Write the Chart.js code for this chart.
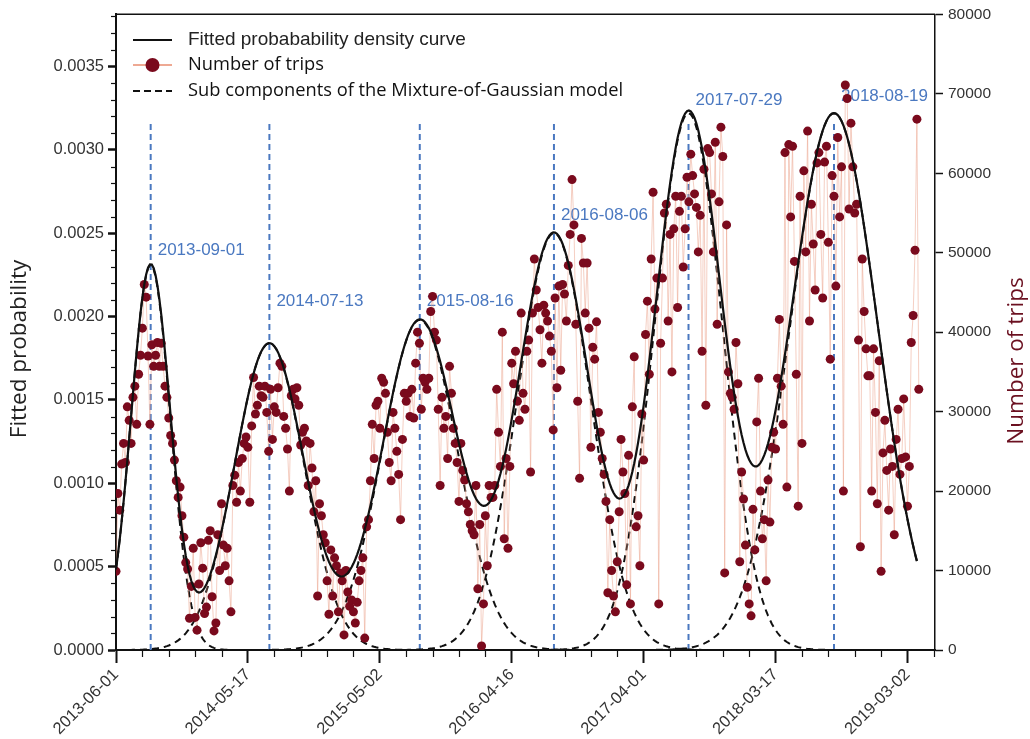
<!DOCTYPE html>
<html>
<head>
<meta charset="utf-8">
<title>Number of trips and fitted Mixture-of-Gaussian density</title>
<script src="https://cdn.jsdelivr.net/npm/chart.js@4.4.1/dist/chart.umd.min.js"></script>
<style>
  html, body { margin: 0; padding: 0; background: #fff; }
  #chart { display: block; }
</style>
</head>
<body>
<canvas id="chart" width="1030" height="739"></canvas>
<script>
// x axis is counted in days from this date
const startDate = "2013-06-01";
const xMaxDays = 2173;
const xTickStepDays = 70;
const xLabelEveryDays = 350;

// number of trips, one reading every 5 days from startDate
const tripStepDays = 5;
const trips = [
    9900, 19700, 17600, 23400, 26000, 23600, 30600, 28900, 26000, 31800,
    33200, 28400, 34700, 37100, 40500, 46000, 44400, 37000, 28400, 38400,
    35700, 37100, 38700, 35700, 38600, 35700, 33200, 31800, 29200, 27000,
    26000, 23900, 21300, 19200, 20500, 16900, 14200, 11000, 10200, 4000,
    8000, 12800, 4100, 2500, 8300, 13500, 10300, 4600, 5400, 13800,
    15000, 6700, 2400, 3400, 14500, 10000, 18400, 13200, 10600, 12800,
    8700, 4800, 20700, 22000, 18600, 23600, 20000, 24100, 26000, 26800,
    25500, 18600, 28200, 34300, 29700, 30800, 33200, 32000, 31800, 33200,
    29900, 25000, 32800, 26500, 30600, 29900, 33000, 36100, 35700, 29400,
    27900, 25300, 20000, 32000, 32800, 31600, 33000, 30800, 25800, 27400,
    27900, 26300, 20700, 26000, 22900, 17400, 21300, 6800, 18400, 16900,
    14500, 13500, 8700, 4500, 12600, 6800, 11600, 10600, 4800, 9700,
    8700, 1900, 10000, 7300, 5500, 6300, 4800, 3400, 6000, 8700,
    10000, 11600, 1500, 15500, 16400, 21300, 28400, 24100, 30800, 31300,
    27900, 34200, 33700, 32300, 27400, 23600, 21300, 29900, 27900, 25000,
    22100, 16400, 26500, 32300, 31300, 32300, 29400, 32800, 29200, 36100,
    40000, 38600, 30300, 34200, 33700, 32800, 34200, 42600, 44500, 40000,
    39000, 30300, 20700, 31800, 27900, 29400, 24100, 35700, 32300, 27900,
    26000, 23600, 18700, 26000, 22600, 21400, 18400, 17400, 15800, 15000,
    14500, 20700, 7700, 15800, 500, 5800, 16900, 10600, 20700, 19200,
    19200, 20700, 32800, 27400, 23100, 40000, 14000, 24100, 12800, 23100,
    36100, 33500, 37600, 31300, 28900, 42400, 32300, 30300, 37600, 39000,
    22400, 42400, 49200, 45300, 43100, 40300, 36100, 43400, 42400, 41400,
    39500, 37600, 27700, 44300, 33000, 45800, 35200, 46000, 44800, 41400,
    48400, 52300, 59200, 53500, 41000, 31300, 21600, 51800, 48700, 42400,
    48700, 40500, 25500, 38100, 36600, 41300, 29900, 27400, 24100, 22100,
    18700, 7200, 16400, 10000, 6800, 4800, 11100, 17400, 26500, 22400,
    19700, 8200, 24500, 5800, 30600, 36900, 15500, 16900, 10600, 29700,
    23900, 39700, 43900, 34700, 49200, 57600, 42900, 46800, 5800, 38600,
    46800, 55000, 56100, 41400, 52300, 35000, 53000, 57100, 43100, 55200,
    57100, 48200, 53000, 59500, 56400, 62400, 59700, 57400, 55700, 50100,
    54700, 37600, 60500, 30800, 63100, 62600, 57400, 50100, 63900, 41000,
    56400, 65800, 62100, 9700, 53500, 35000, 32300, 31800, 30300, 38700,
    33500, 11100, 22400, 19000, 13200, 7900, 5800, 4300, 17700, 12600,
    28700, 34200, 20000, 14000, 16400, 8700, 21400, 16100, 25500, 27400,
    25300, 34200, 41600, 33200, 28400, 62600, 20500, 63600, 54500, 63400,
    48900, 34700, 18100, 57100, 26000, 60300, 50100, 65300, 41400, 56100,
    51100, 45300, 61300, 62600, 52300, 44300, 61400, 63400, 51300, 36600,
    59700, 57100, 45800, 64500, 54500, 60800, 20000, 71100, 69400, 55500,
    66300, 60800, 55000, 56100, 39000, 13000, 49200, 42600, 37900, 34500,
    34500, 20000, 37900, 29900, 18400, 36400, 9900, 24800, 28900, 22600,
    17600, 25300, 23100, 14500, 26500, 30300, 22100, 24100, 31600, 24300,
    18100, 23100, 38700, 42100, 50300, 66800, 32800
];

// Mixture-of-Gaussian sub components: peak date, peak density, spread (days)
const peakDates = ["2013-09-01", "2014-07-13", "2015-08-16", "2016-08-06", "2017-07-29", "2018-08-19"];
const peakDensity = [0.00231, 0.00184, 0.00198, 0.00250, 0.00322, 0.00322];
const peakSdDays = [52, 92, 100, 97, 90, 116];
// height (density axis) of each date label and of the dashed marker lines
const peakLabelY = [0.00240, 0.00209, 0.00209, 0.00261, 0.00330, 0.00332];
const peakLineTop = 0.00317;
const curveEndDays = 2125;
const curveStepDays = 5;

const densityMax = 0.003813;
const tripsMax = 80000;

const DAY = 86400000;
const dayOf = (s) => (Date.parse(s) - Date.parse(startDate)) / DAY;
const fmtDay = (d) => new Date(Date.parse(startDate) + d * DAY).toISOString().slice(0, 10);

const tickFamily = "'Liberation Sans', Arial, sans-serif";
const tickColor = "#333";
const axisColor = "#111";
const dotColor = "#7a0a1d";
const blue = "#4a78c0";

function buildChart() {
    const means = peakDates.map(dayOf);

    const curveDays = [];
    for (let d = 0; d <= curveEndDays; d += curveStepDays) curveDays.push(d);

    function component(i, d) {
        const z = (d - means[i]) / peakSdDays[i];
        return peakDensity[i] * Math.exp(-0.5 * z * z);
    }

    const datasets = [];

    datasets.push({
        label: "Fitted probability density curve",
        data: curveDays.map((d) => ({ x: d, y: means.reduce((s, m, i) => s + component(i, d), 0) })),
        yAxisID: "y",
        borderColor: "#111",
        borderWidth: 2.2,
        pointRadius: 0,
        order: 0,
    });

    datasets.push({
        label: "Number of trips",
        data: trips.map((v, i) => ({ x: i * tripStepDays, y: v })),
        yAxisID: "y2",
        borderColor: "rgba(236, 160, 135, 0.5)",
        borderWidth: 1,
        pointRadius: 4.5,
        pointBackgroundColor: dotColor,
        pointBorderColor: dotColor,
        pointBorderWidth: 0,
        order: 1,
    });

    means.forEach((m, i) => {
        datasets.push({
            label: "component " + (i + 1),
            data: curveDays.map((d) => ({ x: d, y: component(i, d) })),
            yAxisID: "y",
            borderColor: "#111",
            borderWidth: 2,
            borderDash: [7, 5],
            pointRadius: 0,
            order: 2,
        });
    });

    means.forEach((m, i) => {
        datasets.push({
            label: peakDates[i],
            data: [{ x: m, y: 0 }, { x: m, y: peakLineTop }],
            yAxisID: "y",
            borderColor: blue,
            borderWidth: 2,
            borderDash: [6, 4],
            pointRadius: 0,
            order: 3,
        });
    });

    // date labels next to each dashed marker line (under the dots)
    const peakLabels = {
        id: "peakLabels",
        beforeDatasetsDraw(chart) {
            const ctx = chart.ctx;
            const xs = chart.scales.x;
            const ys = chart.scales.y;
            ctx.save();
            ctx.font = "17px 'Liberation Sans', Arial, sans-serif";
            ctx.fillStyle = blue;
            ctx.textAlign = "left";
            ctx.textBaseline = "middle";
            means.forEach((m, i) => {
                ctx.fillText(peakDates[i], xs.getPixelForValue(m) + 7, ys.getPixelForValue(peakLabelY[i]));
            });
            ctx.restore();
        },
    };

    const decor = {
        id: "decor",
        afterDraw(chart) {
            const ctx = chart.ctx;
            const area = chart.chartArea;
            const xs = chart.scales.x;
            const ys = chart.scales.y;
            ctx.save();

            // top spine
            ctx.strokeStyle = axisColor;
            ctx.lineWidth = 1.5;
            ctx.beginPath();
            ctx.moveTo(area.left, area.top);
            ctx.lineTo(area.right, area.top);
            ctx.stroke();

            // minor ticks
            ctx.lineWidth = 1.2;
            xs.ticks.forEach((t) => {
                if (t.value % xLabelEveryDays === 0) return;
                const px = Math.round(xs.getPixelForValue(t.value)) + 0.5;
                ctx.beginPath();
                ctx.moveTo(px, area.bottom);
                ctx.lineTo(px, area.bottom + 7);
                ctx.stroke();
            });
            ys.ticks.forEach((t) => {
                if (Math.round(t.value * 10000) % 5 === 0) return;
                const py = Math.round(ys.getPixelForValue(t.value)) + 0.5;
                ctx.beginPath();
                ctx.moveTo(area.left - 5, py);
                ctx.lineTo(area.left, py);
                ctx.stroke();
            });

            // axis titles, both reading bottom to top
            ctx.textAlign = "center";
            ctx.textBaseline = "middle";
            ctx.font = "22.5px 'Open Sans', sans-serif";
            ctx.fillStyle = "#222";
            ctx.save();
            ctx.translate(20, 349);
            ctx.rotate(-Math.PI / 2);
            ctx.fillText("Fitted probability", 0, 0);
            ctx.restore();
            ctx.fillStyle = "#6b1020";
            ctx.save();
            ctx.translate(1017, 361);
            ctx.rotate(-Math.PI / 2);
            ctx.fillText("Number of trips", 0, 0);
            ctx.restore();

            // legend
            const lx0 = 133, lx1 = 172, tx = 188;
            const rows = [40, 65, 91];
            ctx.textAlign = "left";
            ctx.lineWidth = 2;
            ctx.strokeStyle = "#111";
            ctx.beginPath();
            ctx.moveTo(lx0, rows[0]);
            ctx.lineTo(lx1, rows[0]);
            ctx.stroke();
            ctx.fillStyle = "#222";
            ctx.font = "19px 'Liberation Sans', Arial, sans-serif";
            ctx.fillText("Fitted probabability density curve", tx, rows[0]);

            ctx.strokeStyle = "rgba(236, 160, 135, 0.9)";
            ctx.beginPath();
            ctx.moveTo(lx0, rows[1]);
            ctx.lineTo(lx1, rows[1]);
            ctx.stroke();
            ctx.fillStyle = dotColor;
            ctx.beginPath();
            ctx.arc((lx0 + lx1) / 2, rows[1], 7, 0, Math.PI * 2);
            ctx.fill();
            ctx.fillStyle = "#111";
            ctx.font = "18.3px 'Open Sans', sans-serif";
            ctx.fillText("Number of trips", tx, rows[1]);

            ctx.strokeStyle = "#111";
            ctx.setLineDash([7, 4]);
            ctx.beginPath();
            ctx.moveTo(lx0, rows[2]);
            ctx.lineTo(lx1, rows[2]);
            ctx.stroke();
            ctx.setLineDash([]);
            ctx.fillText("Sub components of the Mixture-of-Gaussian model", tx, rows[2]);

            ctx.restore();
        },
    };

    new Chart(document.getElementById("chart"), {
        type: "line",
        data: { datasets },
        options: {
            responsive: false,
            animation: false,
            events: [],
            layout: { padding: { top: 14, left: 0, right: 0, bottom: 0 } },
            plugins: {
                legend: { display: false },
                tooltip: { enabled: false },
            },
            scales: {
                x: {
                    type: "linear",
                    position: "bottom",
                    min: 0,
                    max: xMaxDays,
                    afterBuildTicks: (axis) => {
                        const ticks = [];
                        for (let d = 0; d <= xMaxDays; d += xTickStepDays) ticks.push({ value: d });
                        axis.ticks = ticks;
                    },
                    afterFit: (axis) => { axis.height = 89; },
                    ticks: {
                        autoSkip: false,
                        minRotation: 45,
                        maxRotation: 45,
                        padding: 2,
                        font: { family: tickFamily, size: 16.5 },
                        color: tickColor,
                        callback: (v) => (v % xLabelEveryDays === 0 ? fmtDay(v) : ""),
                    },
                    grid: {
                        drawOnChartArea: false,
                        tickLength: 13,
                        tickWidth: 2,
                        tickColor: (c) => (c.tick && c.tick.value % xLabelEveryDays === 0 ? axisColor : "rgba(0,0,0,0)"),
                    },
                    border: { display: true, color: axisColor, width: 2 },
                },
                y: {
                    position: "left",
                    min: 0,
                    max: densityMax,
                    afterBuildTicks: (axis) => {
                        const ticks = [];
                        for (let i = 0; i <= 38; i++) ticks.push({ value: i / 10000 });
                        axis.ticks = ticks;
                    },
                    afterFit: (axis) => { axis.width = 116; },
                    ticks: {
                        autoSkip: false,
                        padding: 4,
                        font: { family: tickFamily, size: 16.5 },
                        color: tickColor,
                        callback: (v) => (Math.round(v * 10000) % 5 === 0 ? v.toFixed(4) : ""),
                    },
                    grid: {
                        drawOnChartArea: false,
                        tickLength: 8,
                        tickWidth: 2.5,
                        tickColor: (c) => (c.tick && Math.round(c.tick.value * 10000) % 5 === 0 ? axisColor : "rgba(0,0,0,0)"),
                    },
                    border: { display: true, color: axisColor, width: 2 },
                },
                y2: {
                    position: "right",
                    min: 0,
                    max: tripsMax,
                    afterFit: (axis) => { axis.width = 95; },
                    ticks: {
                        autoSkip: false,
                        stepSize: 10000,
                        padding: 5,
                        font: { family: tickFamily, size: 15.5 },
                        color: tickColor,
                        callback: (v) => String(v),
                    },
                    grid: {
                        drawOnChartArea: false,
                        tickLength: 8,
                        tickWidth: 1.5,
                        tickColor: axisColor,
                    },
                    border: { display: true, color: axisColor, width: 1.5 },
                },
            },
        },
        plugins: [peakLabels, decor],
    });
}

Promise.all([
    document.fonts.load("19px 'Open Sans'"),
    document.fonts.load("16px 'Liberation Sans'"),
]).then(buildChart, buildChart);
</script>
</body>
</html>
